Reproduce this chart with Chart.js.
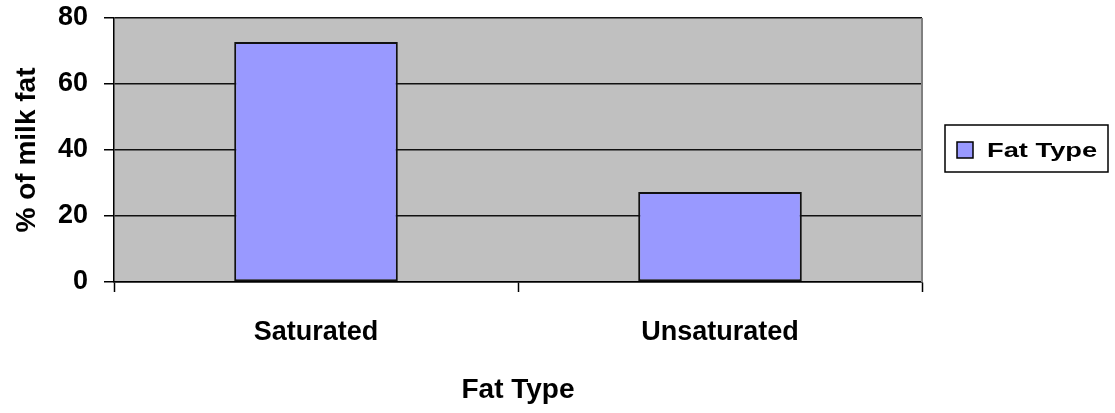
<!DOCTYPE html>
<html>
<head>
<meta charset="utf-8">
<title>Milk fat composition</title>
<script src="https://cdn.jsdelivr.net/npm/chart.js@4.4.1/dist/chart.umd.min.js"></script>
<style>
  html, body { margin: 0; padding: 0; background: #ffffff; }
  #wrap { width: 1115px; height: 413px; }
  canvas { display: block; }
</style>
</head>
<body>
<div id="wrap"><canvas id="chart" width="1115" height="413"></canvas></div>
<script>
// Share of each fat type in milk fat (%)
const categories = ['Saturated', 'Unsaturated'];
const fatShare = [72.7, 27.3];
const seriesName = 'Fat Type';
const yTickValues = [0, 20, 40, 60, 80];
const xTitle = 'Fat Type';
const yTitle = '% of milk fat';

const FONT = "'Liberation Sans', Arial, sans-serif";
const BAR_FILL = '#9999ff';
const PLOT_BG = '#c0c0c0';

// Gray plot background and the right-hand frame of the plot area
const plotFrame = {
  id: 'plotFrame',
  beforeDraw(chart) {
    const { ctx, chartArea: a } = chart;
    ctx.save();
    ctx.fillStyle = PLOT_BG;
    ctx.fillRect(a.left, a.top, a.right - a.left, a.bottom - a.top);
    ctx.restore();
  },
  beforeDatasetsDraw(chart) {
    const { ctx, chartArea: a } = chart;
    ctx.save();
    ctx.strokeStyle = '#808080';
    ctx.lineWidth = 2;
    ctx.beginPath();
    ctx.moveTo(a.right, a.top);
    ctx.lineTo(a.right, a.bottom);
    ctx.stroke();
    ctx.restore();
  }
};

// Boxed legend to the right of the plot
const boxLegend = {
  id: 'boxLegend',
  afterDraw(chart) {
    const { ctx, chartArea: a } = chart;
    const ds = chart.data.datasets[0];
    const x = a.right + 23, y = 125, w = 163, h = 47;
    ctx.save();
    ctx.fillStyle = '#ffffff';
    ctx.fillRect(x, y, w, h);
    ctx.strokeStyle = '#000';
    ctx.lineWidth = 1.5;
    ctx.strokeRect(x, y, w, h);
    ctx.fillStyle = ds.backgroundColor;
    ctx.fillRect(x + 12, y + 17, 16, 16);
    ctx.strokeRect(x + 12, y + 17, 16, 16);
    ctx.fillStyle = '#000';
    ctx.textBaseline = 'middle';
    ctx.textAlign = 'left';
    ctx.font = 'bold 21px ' + FONT;
    ctx.translate(x + 42, y + 26);
    ctx.scale(1.3, 1);
    ctx.fillText(ds.label, 0, 0);
    ctx.restore();
  }
};

Chart.defaults.color = '#000';

new Chart(document.getElementById('chart'), {
  type: 'bar',
  data: {
    labels: categories,
    datasets: [{
      label: seriesName,
      data: fatShare,
      backgroundColor: BAR_FILL,
      borderColor: '#111',
      borderWidth: 2,
      borderSkipped: false,
      barPercentage: 0.405,
      categoryPercentage: 1
    }]
  },
  options: {
    responsive: false,
    devicePixelRatio: 1,
    animation: false,
    layout: { padding: { top: 18, right: 193, left: 0, bottom: 0 } },
    plugins: {
      legend: { display: false },
      tooltip: { enabled: false }
    },
    scales: {
      x: {
        offset: true,
        grid: {
          display: true,
          drawOnChartArea: false,
          drawTicks: true,
          tickLength: 10,
          tickWidth: 1.5,
          tickColor: '#000'
        },
        border: { display: true, color: '#000', width: 1.5 },
        ticks: {
          padding: 24,
          maxRotation: 0,
          font: { family: FONT, size: 27, weight: 'bold' }
        },
        title: {
          display: true,
          text: xTitle,
          padding: { top: 0, bottom: 6 },
          font: { family: FONT, size: 28, weight: 'bold' }
        },
        afterFit(scale) {
          scale.height = 131;
          scale.paddingLeft = 0;
          scale.paddingRight = 0;
        }
      },
      y: {
        min: 0,
        max: 80,
        afterBuildTicks(scale) {
          scale.ticks = yTickValues.map(v => ({ value: v }));
        },
        grid: {
          color: '#111',
          lineWidth: 1.5,
          drawTicks: true,
          tickLength: 10,
          tickColor: '#000'
        },
        border: { display: true, color: '#000', width: 1.5 },
        ticks: {
          padding: 16,
          font: { family: FONT, size: 27, weight: 'bold' }
        },
        title: {
          display: true,
          text: yTitle,
          padding: { top: 10, bottom: 0 },
          font: { family: FONT, size: 28, weight: 'bold' }
        },
        afterFit(scale) {
          scale.width = 114;
          scale.paddingTop = 0;
          scale.paddingBottom = 0;
        }
      }
    }
  },
  plugins: [plotFrame, boxLegend]
});
</script>
</body>
</html>
